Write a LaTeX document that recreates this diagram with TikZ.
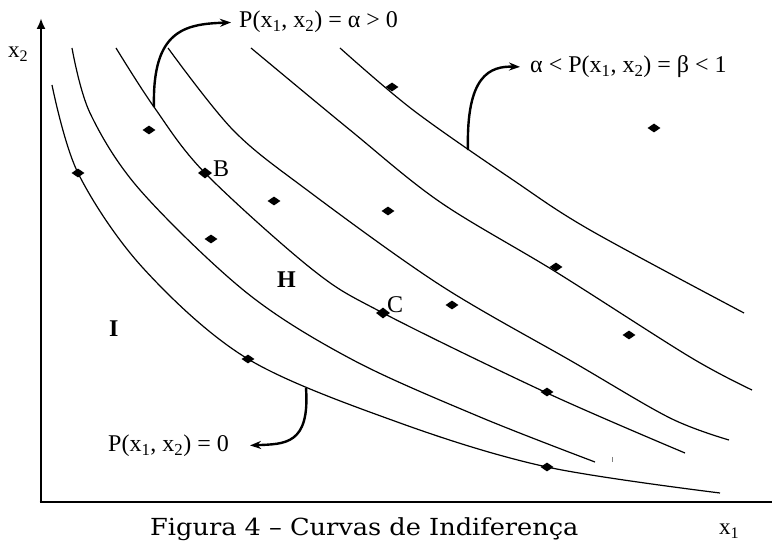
\documentclass[tikz,border=0pt]{standalone}
\usepackage{fontspec}
\setmainfont{Liberation Serif}
\newfontfamily\capfont{DejaVu Serif}
\usetikzlibrary{arrows.meta,shapes.geometric}
\tikzset{
  curve/.style={line width=1.2pt, line join=round},
  axis/.style={line width=2.8pt},
  pointer/.style={line width=2.4pt, -{Stealth[length=11pt,width=8pt]}},
  dot/.style={diamond, fill=black, inner sep=0pt, minimum width=13pt, minimum height=9pt},
  bigdot/.style={dot, minimum width=14pt, minimum height=11pt},
  lbl/.style={font=\fontsize{24}{27}\selectfont, inner sep=1pt},
  boldlbl/.style={font=\fontsize{24}{28}\selectfont\bfseries, inner sep=0pt},
  axlbl/.style={font=\fontsize{23}{26}\selectfont, inner sep=0pt},
}
\begin{document}
\begin{tikzpicture}[x=1pt,y=-1pt]
\useasboundingbox (0,0) rectangle (772,545);
% axes
\coordinate (O) at (41,502);
\coordinate (ytop) at (41,18);
\coordinate (xend) at (772,502);
\draw[axis,-{Latex[length=11pt,width=9pt]}] (O) -- (ytop);
\draw[axis] ([xshift=-1.4pt]O) -- (xend);
% curves
\draw[curve] plot[smooth,tension=0.55] coordinates {(52,85) (78,173) (143,268) (248,359) (400,423) (547,467) (720,493)};
\draw[curve] plot[smooth,tension=0.55] coordinates {(72,48) (90,113) (140,190) (247,293) (353,360) (480,417) (595,462)};
\draw[curve] plot[smooth,tension=0.55] coordinates {(116,48) (154,107) (205,173) (313,270) (383,313) (547,393) (685,453)};
\draw[curve] plot[smooth,tension=0.55] coordinates {(168,48) (233,130) (307,190) (440,285) (573,362) (670,418) (729,440)};
\draw[curve] plot[smooth,tension=0.55] coordinates {(251,48) (350,130) (440,202) (556,272) (690,357) (752,390)};
\draw[curve] plot[smooth,tension=0.55] coordinates {(340,48) (413,110) (513,180) (590,230) (744,313)};
% small tick
\draw[line width=0.6pt, gray] (612,457) -- (612,462);
% dots
\node[dot] (d1) at (78,173) {};
\node[dot] (d2) at (149,130) {};
\node[bigdot] (dB) at (205,173) {};
\node[dot] (d4) at (274,201) {};
\node[dot] (d5) at (211,239) {};
\node[dot] (d6) at (392,87) {};
\node[dot] (d7) at (654,128) {};
\node[dot] (d8) at (388,211) {};
\node[dot] (d9) at (556,267) {};
\node[dot] (d10) at (452,305) {};
\node[bigdot] (dC) at (383,313) {};
\node[dot] (d12) at (248,359) {};
\node[dot] (d13) at (629,335) {};
\node[dot] (d14) at (547,392) {};
\node[dot] (d15) at (547,467) {};
% labels
\node[lbl, anchor=base west, inner sep=0pt] (B) at (213,177) {B};
\node[lbl, anchor=base west, inner sep=0pt] (C) at (387,313) {C};
\node[boldlbl, anchor=base west] (H) at (277,288) {H};
\node[boldlbl, anchor=base west] (I) at (109,337) {I};
\node[axlbl, anchor=base west] (x2) at (8,58) {x\textsubscript{2}};
\node[axlbl, anchor=base west] (x1) at (719,535) {x\textsubscript{1}};
\node[font=\capfont\fontsize{23.5}{26}\selectfont, anchor=base west, inner sep=0pt] (cap) at (150,536) {\scalebox{1.09}[1]{Figura 4 – Curvas de Indiferença}};
% texts with pointers
\node[lbl, anchor=base west] (t1) at (238,28) {P(x\textsubscript{1}, x\textsubscript{2}) = α > 0};
\node[lbl, anchor=base west] (t2) at (529,73) {α < P(x\textsubscript{1}, x\textsubscript{2}) = β < 1};
\node[lbl, anchor=base west] (t3) at (107,452) {P(x\textsubscript{1}, x\textsubscript{2}) = 0};
\coordinate (a1) at (154,107);
\coordinate (a2) at (468,150);
\coordinate (a3) at (306,388);
\draw[pointer, shorten >=7pt] (a1) .. controls (152,30) and (185,24) .. (t1.west);
\draw[pointer, shorten >=9pt] (a2) .. controls (466,75) and (490,66) .. (t2.west);
\draw[pointer, shorten >=20pt] (a3) .. controls (310,445) and (285,444) .. (t3.east);
\end{tikzpicture}
\end{document}
